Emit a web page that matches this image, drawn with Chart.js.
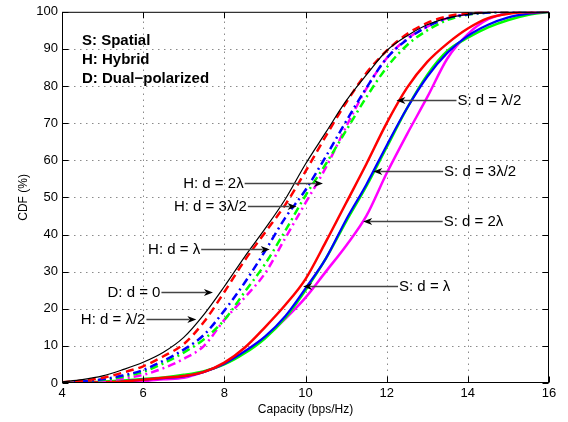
<!DOCTYPE html>
<html><head><meta charset="utf-8">
<script src="https://cdn.jsdelivr.net/npm/chart.js@4/dist/chart.umd.min.js"></script>
<style>html,body{margin:0;padding:0;background:#fff}#wrap{width:568px;height:422px}</style>
</head><body><div id="wrap"><canvas id="c" width="568" height="422"></canvas></div>
<script>
// Capacity grid (bps/Hz)
const capacity = [4,4.5,5,5.5,6,6.5,7,7.5,8,8.5,9,9.5,10,10.5,11,11.5,12,12.5,13,13.5,14,14.5,15,15.5,16];
// CDF (%) values
const dualD0   = [0.3,0.9,1.9,3.6,5.6,8.3,12.3,18.5,26,34,41.5,49.5,59,67.5,76,83,89.5,93.5,96.5,98.3,99.3,99.8,100,100,100];
const hybHalf  = [0.2,0.6,1.4,2.8,4.5,7.2,10.5,16.5,24.5,33,40.5,48,57,66.5,75.5,83.5,89.5,94,97,98.8,99.6,100,100,100,100];
const hybOne   = [0.1,0.4,1,2,3.5,6,9,13,19.5,27,35.5,44.5,52,61,70.5,79.5,87.5,92.5,96,98.3,99.3,99.8,100,100,100];
const hybThree = [0.1,0.3,0.8,1.7,3,5.3,8.2,11.8,17,24.5,32,41,50.5,59,68,77,85,91,95,97.8,99.2,99.8,100,100,100];
const hybTwo   = [0.1,0.2,0.6,1.2,2.2,4,6.5,10,17,23,29.5,39,48.5,58,69,79.3,87.5,92.7,96,98.3,99.4,100,100,100,100];
const spaHalf  = [0,0.05,0.2,0.4,0.9,1.4,1.9,3,5.5,9.5,15,21,28,38,48.5,59,70,79.5,86.5,91.5,95.5,98.3,99.5,99.9,100];
const spaOne   = [0,0.05,0.2,0.4,0.9,1.3,1.8,3,5.2,8.5,12.5,18,25.5,33.5,44,53.5,64,74,82.5,89,93.5,96.5,98.5,99.5,100];
const spaThree = [0,0.1,0.4,0.7,1.1,1.5,2.2,3.2,5,8,12,17.5,25,33.5,43.5,53,63.5,74,83,89.5,93,95.8,97.8,99.2,100];
const spaTwo   = [0,0.05,0.15,0.3,0.5,1,1.4,3,5.2,8.5,12.3,17.3,23,30,37,45,56.5,67,77,87.5,94,98,99.6,100,100];

const xTicks = [4,6,8,10,12,14,16];
const yTicks = [0,10,20,30,40,50,60,70,80,90,100];
const notes = ['S: Spatial','H: Hybrid','D: Dual\u2212polarized'];

// callouts: label, label anchor (data units), arrow tip x (data units), label side
const callouts = [
  {t:'H: d = 2\u03bb',   ax:8.50,  ay:54.0, tip:10.43, side:'left'},
  {t:'H: d = 3\u03bb/2', ax:8.58,  ay:47.6, tip:9.78,  side:'left'},
  {t:'H: d = \u03bb',    ax:7.43,  ay:36.2, tip:9.12,  side:'left'},
  {t:'D: d = 0',         ax:6.45,  ay:24.6, tip:7.72,  side:'left'},
  {t:'H: d = \u03bb/2',  ax:6.08,  ay:17.2, tip:7.31,  side:'left'},
  {t:'S: d = \u03bb/2',  ax:13.72, ay:76.2, tip:12.24, side:'right'},
  {t:'S: d = 3\u03bb/2', ax:13.39, ay:57.0, tip:11.67, side:'right'},
  {t:'S: d = 2\u03bb',   ax:13.38, ay:43.6, tip:11.42, side:'right'},
  {t:'S: d = \u03bb',    ax:12.28, ay:26.1, tip:9.94,  side:'right'}
];

const pts = arr => capacity.map((c,i)=>({x:c,y:arr[i]}));
const FONT = "'Liberation Sans', Arial, Helvetica, sans-serif";

const overlay = {
  id:'overlay',
  beforeDatasetsDraw(chart){
    const {ctx, chartArea:a, scales:{x,y}} = chart;
    ctx.save();
    ctx.strokeStyle='#8a8a8a'; ctx.lineWidth=1; ctx.setLineDash([1.5,4.5]);
    ctx.beginPath();
    xTicks.slice(1,-1).forEach(v=>{const p=Math.round(x.getPixelForValue(v))+0.5; ctx.moveTo(p,a.bottom); ctx.lineTo(p,a.top);});
    yTicks.slice(1,-1).forEach(v=>{const p=Math.round(y.getPixelForValue(v))+0.5; ctx.moveTo(a.left,p); ctx.lineTo(a.right,p);});
    ctx.stroke();
    ctx.restore();
  },
  afterDatasetsDraw(chart){
    const {ctx, chartArea:a, scales:{x,y}} = chart;
    ctx.save();
    const L=a.left+0.5, R=a.right-0.5, T=a.top+0.5, B=a.bottom-0.5;
    ctx.strokeStyle='#000'; ctx.lineWidth=1; ctx.setLineDash([]);
    ctx.strokeRect(L,T,R-L,B-T);
    ctx.beginPath();
    xTicks.forEach(v=>{const p=Math.round(x.getPixelForValue(v))+0.5; ctx.moveTo(p,B); ctx.lineTo(p,B-6); ctx.moveTo(p,T); ctx.lineTo(p,T+6);});
    yTicks.forEach(v=>{const p=Math.round(y.getPixelForValue(v))+0.5; ctx.moveTo(L,p); ctx.lineTo(L+6,p); ctx.moveTo(R,p); ctx.lineTo(R-6,p);});
    ctx.stroke();
    // notes
    ctx.fillStyle='#000'; ctx.font='bold 15px '+FONT; ctx.textBaseline='middle'; ctx.textAlign='left';
    notes.forEach((n,i)=>ctx.fillText(n, a.left+20, a.top+29.5+i*19));
    // callouts
    ctx.font='15px '+FONT;
    callouts.forEach(c=>{
      const px=x.getPixelForValue(c.ax), py=Math.round(y.getPixelForValue(c.ay))+0.5, tx=x.getPixelForValue(c.tip);
      ctx.fillStyle='#000';
      ctx.textAlign = c.side==='left' ? 'right':'left';
      ctx.fillText(c.t, c.side==='left'? px-1 : px+1, py+0.5);
      ctx.strokeStyle='#444'; ctx.lineWidth=1.3;
      const dir = tx>px?1:-1;
      ctx.beginPath(); ctx.moveTo(px,py); ctx.lineTo(tx-dir*7,py); ctx.stroke();
      ctx.fillStyle='#000';
      ctx.beginPath(); ctx.moveTo(tx,py); ctx.lineTo(tx-dir*9,py-3.5); ctx.lineTo(tx-dir*6.5,py); ctx.lineTo(tx-dir*9,py+3.5); ctx.closePath(); ctx.fill();
    });
    ctx.restore();
  }
};

const ds = (label, arr, color, width, dash) => ({label, data:pts(arr), borderColor:color, borderWidth:width, borderDash:dash, pointRadius:0, fill:false, cubicInterpolationMode:'monotone'});

new Chart(document.getElementById('c'), {
  type:'line',
  data:{datasets:[
    ds('D: d = 0', dualD0, '#000000', 1.2, []),
    ds('H: d = \u03bb/2', hybHalf, '#ff0000', 2.5, [8,5]),
    ds('H: d = \u03bb', hybOne, '#0000ff', 2.5, [8,4,2,4]),
    ds('H: d = 3\u03bb/2', hybThree, '#00ff00', 2.5, [8,4,2,4]),
    ds('H: d = 2\u03bb', hybTwo, '#ff00ff', 2.5, [8,4,2,4]),
    ds('S: d = \u03bb/2', spaHalf, '#ff0000', 2.5, []),
    ds('S: d = \u03bb', spaOne, '#0000ff', 2.2, []),
    ds('S: d = 3\u03bb/2', spaThree, '#00ff00', 2.5, []),
    ds('S: d = 2\u03bb', spaTwo, '#ff00ff', 2.5, [])
  ]},
  options:{
    responsive:false, animation:false, devicePixelRatio:1,
    layout:{padding:{top:9,right:19,left:0,bottom:0}},
    plugins:{legend:{display:false}, tooltip:{enabled:false}},
    scales:{
      x:{type:'linear', min:4, max:16,
         afterBuildTicks:s=>{s.ticks=xTicks.map(v=>({value:v}));},
         afterFit:s=>{s.height=39;},
         ticks:{color:'#000', font:{family:FONT,size:13}, padding:3, maxRotation:0},
         grid:{display:false, drawTicks:false},
         border:{display:false},
         title:{display:true, text:'Capacity (bps/Hz)', color:'#000', font:{family:FONT,size:12}, padding:{top:5,bottom:5}}},
      y:{min:0, max:100,
         afterBuildTicks:s=>{s.ticks=yTicks.map(v=>({value:v}));},
         afterFit:s=>{s.width=62;},
         ticks:{color:'#000', font:{family:FONT,size:13}, padding:4},
         grid:{display:false, drawTicks:false},
         border:{display:false},
         title:{display:true, text:'CDF (%)', color:'#000', font:{family:FONT,size:12}, padding:{top:16,bottom:16}}}
    }
  },
  plugins:[overlay]
});
</script></body></html>
